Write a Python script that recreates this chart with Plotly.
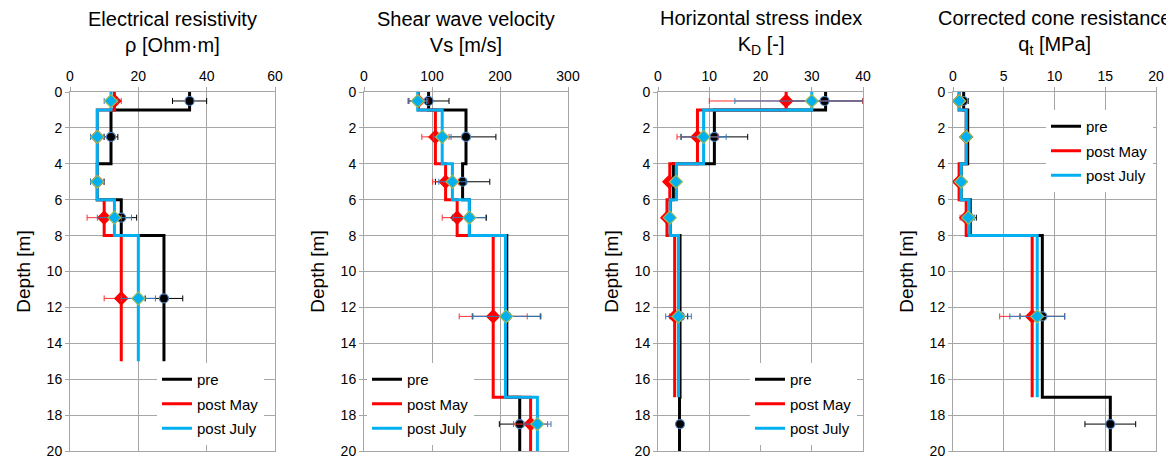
import plotly.graph_objects as go

# ---------------- data ----------------
# Electrical resistivity [Ohm·m]
ER_PRE_BOUNDS = [0, 1, 4, 6, 8, 15]
ER_PRE = [35, 12, 8, 15, 27.5]
ER_MAY_BOUNDS = [0, 1, 6, 8, 15]
ER_MAY = [13, 8, 10, 15]
ER_JUL_BOUNDS = [0, 1, 6, 8, 15]
ER_JUL = [12, 8, 13, 20]
ER_PT_DEPTH = [0.5, 2.5, 5, 7, 11.5]
ER_PRE_PT = [35, 12, 8, 15, 27.5]
ER_PRE_ERR = [5, 2, 2, 4.5, 5.5]
ER_MAY_PT = [13, 8, 8, 10, 15]
ER_MAY_ERR = [2, 2, 2, 5, 5]
ER_JUL_PT = [12, 8, 8, 13, 20]
ER_JUL_ERR = [2, 2, 2, 5, 5]

# Shear wave velocity [m/s]
VS_PRE_BOUNDS = [0, 1, 4, 6, 8, 17, 20]
VS_PRE = [95, 150, 145, 155, 210, 229]
VS_MAY_BOUNDS = [0, 1, 4, 6, 8, 17, 20]
VS_MAY = [80, 105, 120, 137, 190, 245]
VS_JUL_BOUNDS = [0, 1, 4, 6, 8, 17, 20]
VS_JUL = [79, 115, 130, 155, 208, 255]
VS_PT_DEPTH = [0.5, 2.5, 5, 7, 12.5, 18.5]
VS_PRE_PT = [95, 150, 145, 155, 210, 229]
VS_PRE_ERR = [30, 44, 40, 25, 50, 30]
VS_MAY_PT = [80, 105, 120, 137, 190, 245]
VS_MAY_ERR = [14, 20, 19, 22, 50, 25]
VS_JUL_PT = [79, 115, 130, 155, 209, 255]
VS_JUL_ERR = [13, 13, 20, 24, 50, 20]

# Horizontal stress index KD [-]
KD_PRE_BOUNDS = [0, 1, 4, 6, 8, 17, 20]
KD_PRE = [32.7, 11, 3.0, 2.4, 4.3, 4.2]
KD_MAY_BOUNDS = [0, 1, 4, 6, 8, 17]
KD_MAY = [25, 7.7, 2.3, 1.75, 3.25]
KD_JUL_BOUNDS = [0, 1, 4, 6, 8, 17]
KD_JUL = [30, 8.9, 3.6, 2.4, 4.0]
KD_PRE_DEPTH = [0.5, 2.5, 5, 7, 12.5, 18.5]
KD_PRE_PT = [32.5, 11, 3, 2.3, 4.3, 4.3]
KD_PRE_ERR = [7.5, 6.5, 0.7, 0.7, 1.5, 0.5]
KD_PT_DEPTH = [0.5, 2.5, 5, 7, 12.5]
KD_MAY_PT = [25, 7.7, 2.2, 1.8, 3.3]
KD_MAY_ERR = [15, 4, 0.6, 0.6, 1.0]
KD_JUL_PT = [30, 8.9, 3.5, 2.3, 4.0]
KD_JUL_ERR = [15, 4.4, 0.7, 0.7, 2.5]

# Corrected cone resistance qt [MPa]
QT_PRE_BOUNDS = [0, 1, 4, 6, 8, 17, 20]
QT_PRE = [1.05, 1.45, 0.8, 1.7, 8.8, 15.5]
QT_MAY_BOUNDS = [0, 1, 4, 6, 8, 17]
QT_MAY = [0.6, 1.3, 0.6, 1.3, 7.8]
QT_JUL_BOUNDS = [0, 1, 4, 6, 8, 17]
QT_JUL = [0.6, 1.3, 0.8, 1.6, 8.3]
QT_PRE_DEPTH = [0.5, 2.5, 5, 7, 12.5, 18.5]
QT_PRE_PT = [1.0, 1.3, 0.8, 1.6, 8.8, 15.5]
QT_PRE_ERR = [0.5, 0.4, 0.2, 0.7, 2.2, 2.5]
QT_PT_DEPTH = [0.5, 2.5, 5, 7, 12.5]
QT_MAY_PT = [0.6, 1.3, 0.6, 1.3, 7.8]
QT_MAY_ERR = [0.3, 0.3, 0.2, 0.6, 3.2]
QT_JUL_PT = [0.6, 1.3, 0.8, 1.5, 8.3]
QT_JUL_ERR = [0.3, 0.3, 0.2, 0.6, 2.7]

TITLES = ["Electrical resistivity<br>ρ [Ohm·m]",
          "Shear wave velocity<br>Vs [m/s]",
          "Horizontal stress index<br>K<sub>D</sub> [-]",
          "Corrected cone resistance<br>q<sub>t</sub> [MPa]"]
X_MAX = [60, 300, 40, 20]
X_DTICK = [20, 100, 10, 5]
SERIES_NAMES = ["pre", "post May", "post July"]

# ---------------- style ----------------
FONT = "Liberation Sans, Arial, sans-serif"
WIN_W, WIN_H = 1174, 457
OFF = 8                      # page body margin of the html page
W, H = WIN_W - OFF, WIN_H - OFF
PLOT_TOP, PLOT_BOT = 92, 451                       # window pixels
X_PIX = [(70, 275), (364, 568), (658, 863), (953, 1156)]
LINE_COLORS = ["#000000", "#ff0000", "#00b0f0"]
MARKER_SYMBOL = ["circle", "diamond", "diamond"]
MARKER_FILL = ["#000000", "#ff0000", "#00b0f0"]
MARKER_LINE = ["#4f81bd", "#ff0000", "#9bbb59"]
ERR_COLORS = ["#000000", "#ff3030", "#2f7fc1"]
GRID = "#a6a6a6"

panels = [
    dict(steps=[(ER_PRE_BOUNDS, ER_PRE), (ER_MAY_BOUNDS, ER_MAY), (ER_JUL_BOUNDS, ER_JUL)],
         pts=[(ER_PT_DEPTH, ER_PRE_PT, ER_PRE_ERR), (ER_PT_DEPTH, ER_MAY_PT, ER_MAY_ERR),
              (ER_PT_DEPTH, ER_JUL_PT, ER_JUL_ERR)]),
    dict(steps=[(VS_PRE_BOUNDS, VS_PRE), (VS_MAY_BOUNDS, VS_MAY), (VS_JUL_BOUNDS, VS_JUL)],
         pts=[(VS_PT_DEPTH, VS_PRE_PT, VS_PRE_ERR), (VS_PT_DEPTH, VS_MAY_PT, VS_MAY_ERR),
              (VS_PT_DEPTH, VS_JUL_PT, VS_JUL_ERR)]),
    dict(steps=[(KD_PRE_BOUNDS, KD_PRE), (KD_MAY_BOUNDS, KD_MAY), (KD_JUL_BOUNDS, KD_JUL)],
         pts=[(KD_PRE_DEPTH, KD_PRE_PT, KD_PRE_ERR), (KD_PT_DEPTH, KD_MAY_PT, KD_MAY_ERR),
              (KD_PT_DEPTH, KD_JUL_PT, KD_JUL_ERR)]),
    dict(steps=[(QT_PRE_BOUNDS, QT_PRE), (QT_MAY_BOUNDS, QT_MAY), (QT_JUL_BOUNDS, QT_JUL)],
         pts=[(QT_PRE_DEPTH, QT_PRE_PT, QT_PRE_ERR), (QT_PT_DEPTH, QT_MAY_PT, QT_MAY_ERR),
              (QT_PT_DEPTH, QT_JUL_PT, QT_JUL_ERR)]),
]

# legend top-left corners in window pixels
LEGEND_POS = [(157, 363), (367, 363), (750, 363), (1046, 110)]

fig = go.Figure()

def px(xw):
    return (xw - OFF) / W

def py(yw):
    return (H - (yw - OFF)) / H

for i, p in enumerate(panels):
    xa = "x" if i == 0 else f"x{i+1}"
    ya = "y" if i == 0 else f"y{i+1}"
    leg = "legend" if i == 0 else f"legend{i+1}"
    for s, (bounds, vals) in enumerate(p["steps"]):
        xs = list(vals) + [vals[-1]]
        fig.add_trace(go.Scatter(
            x=xs, y=bounds, mode="lines", line=dict(color=LINE_COLORS[s], width=3, shape="vh"),
            name=SERIES_NAMES[s], xaxis=xa, yaxis=ya, legend=leg, showlegend=True,
            legendgroup=f"g{i}_{s}", hoverinfo="skip"))
    for s, (dep, vals, errs) in enumerate(p["pts"]):
        fig.add_trace(go.Scatter(
            x=vals, y=dep, mode="markers",
            marker=dict(symbol=MARKER_SYMBOL[s], size=9 if s == 0 else 10, color=MARKER_FILL[s],
                        line=dict(color=MARKER_LINE[s], width=1.2)),
            error_x=dict(type="data", array=errs, visible=True, color=ERR_COLORS[s],
                         thickness=1, width=3),
            xaxis=xa, yaxis=ya, showlegend=False, hoverinfo="skip"))

    x0, x1 = X_PIX[i]
    fig.layout[f"xaxis{i+1 if i else ''}"] = dict(
        domain=[px(x0), px(x1)], anchor=ya, side="top", range=[0, X_MAX[i]],
        dtick=X_DTICK[i], tick0=0, showgrid=True, gridcolor=GRID, gridwidth=1,
        zeroline=False, showline=True, linecolor=GRID, linewidth=1, mirror=True,
        ticks="outside", ticklen=4, tickcolor=GRID, automargin=False,
        ticklabeloverflow="allow",
        tickfont=dict(family=FONT, size=14, color="#000000"), fixedrange=True)
    fig.layout[f"yaxis{i+1 if i else ''}"] = dict(
        domain=[py(PLOT_BOT), py(PLOT_TOP)], anchor=xa, range=[20, 0], dtick=2, tick0=0,
        showgrid=True, gridcolor=GRID, gridwidth=1, zeroline=False,
        showline=True, linecolor=GRID, linewidth=1, mirror=True,
        ticks="outside", ticklen=4, tickcolor=GRID, automargin=False,
        ticklabeloverflow="allow",
        tickfont=dict(family=FONT, size=14, color="#000000"),
        title=dict(text="Depth [m]", font=dict(family=FONT, size=19, color="#000000"),
                   standoff=10),
        fixedrange=True)

    lx, ly = LEGEND_POS[i]
    fig.layout[leg] = dict(
        x=px(lx), y=py(ly), xref="paper", yref="paper", xanchor="left", yanchor="top",
        bgcolor="#ffffff", borderwidth=0, itemwidth=30, traceorder="grouped",
        tracegroupgap=2, font=dict(family=FONT, size=15, color="#000000"))

    fig.add_annotation(
        text=TITLES[i], xref="paper", yref="paper",
        x=px((x0 + x1) / 2), y=py(32),
        xanchor="center", yanchor="middle", showarrow=False,
        font=dict(family=FONT, size=20, color="#000000"))

fig.update_layout(
    width=W, height=H, margin=dict(l=0, r=0, t=0, b=0, autoexpand=False),
    paper_bgcolor="#ffffff", plot_bgcolor="#ffffff",
    font=dict(family=FONT, color="#000000"))

fig.write_html("out.html")
